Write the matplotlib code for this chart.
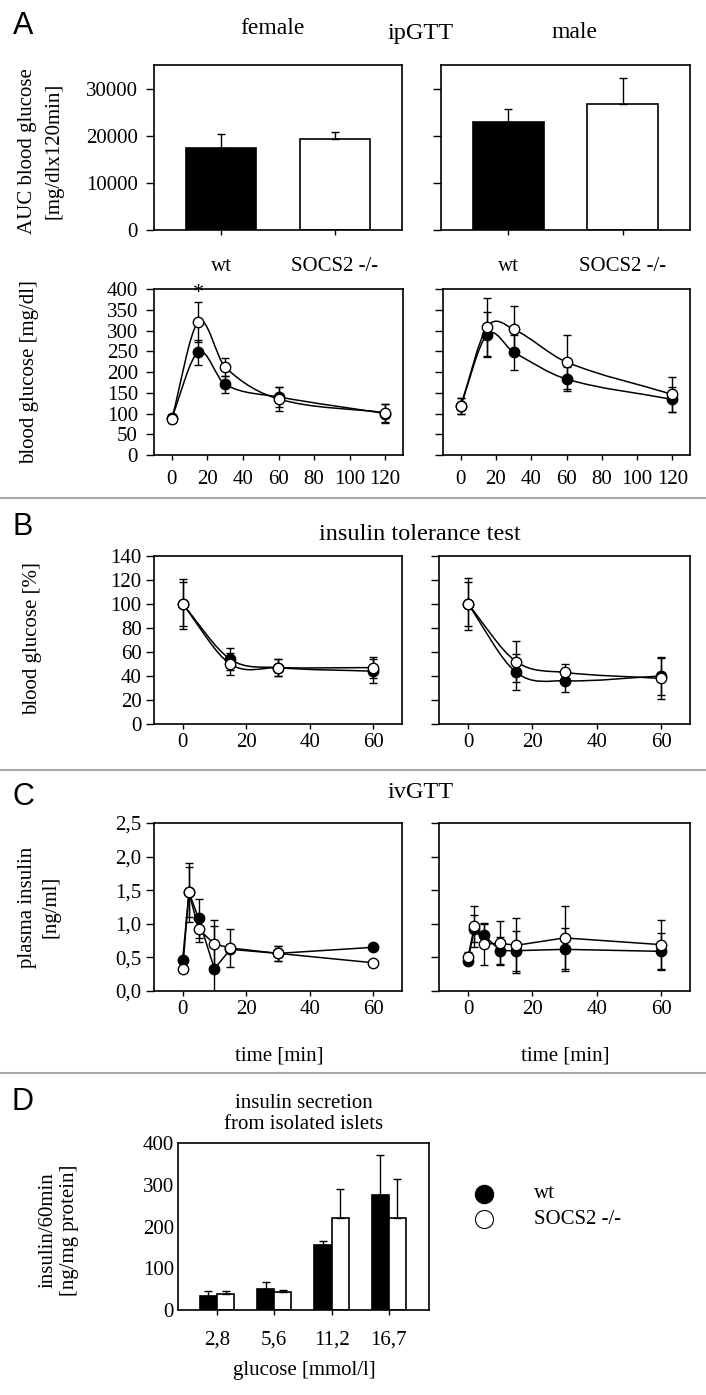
import matplotlib
matplotlib.use("Agg")
import matplotlib.pyplot as plt
import numpy as np
from matplotlib.lines import Line2D
from matplotlib.patches import PathPatch
from matplotlib.path import Path

plt.rcParams["font.family"] = ["Liberation Serif", "DejaVu Serif"]
plt.rcParams["font.size"] = 15

W, H = 706, 1395

# --- A: ipGTT area under curve
groups = ["wt", "SOCS2 -/-"]
auc_female = [17500, 19300]
auc_female_err = [2900, 1500]
auc_male = [23000, 26700]
auc_male_err = [2700, 5600]

# --- A: ipGTT time course
ipgtt_t = [0, 15, 30, 60, 120]
ipgtt_f_wt = [90, 248, 170, 140, 100]
ipgtt_f_wt_err = [10, 30, 20, 25, 22]
ipgtt_f_ko = [87, 321, 212, 135, 102]
ipgtt_f_ko_err = [10, 48, 22, 28, 22]
ipgtt_m_wt = [118, 290, 248, 183, 134]
ipgtt_m_wt_err = [20, 54, 42, 28, 30]
ipgtt_m_ko = [118, 308, 303, 224, 146]
ipgtt_m_ko_err = [20, 70, 55, 65, 42]

# --- B: insulin tolerance test
itt_t = [0, 15, 30, 60]
itt_f_wt = [100, 54, 47, 44]
itt_f_wt_err = [18, 9, 7, 10]
itt_f_ko = [100, 50, 47, 47]
itt_f_ko_err = [21, 9, 7, 9]
itt_m_wt = [100, 43, 36, 40]
itt_m_wt_err = [18, 15, 9, 16]
itt_m_ko = [100, 52, 43, 38]
itt_m_ko_err = [22, 17, 7, 17]

# --- C: ivGTT plasma insulin
ivgtt_t = [0, 2, 5, 10, 15, 30, 60]
ivgtt_f_wt = [0.46, 1.47, 1.08, 0.33, 0.62, 0.56, 0.65]
ivgtt_f_wt_err = [0.03, 0.37, 0.29, 0.63, 0.05, 0.11, 0.02]
ivgtt_f_ko = [0.32, 1.47, 0.92, 0.70, 0.64, 0.56, 0.42]
ivgtt_f_ko_err = [0.03, 0.44, 0.19, 0.36, 0.29, 0.11, 0.02]
ivgtt_m_wt = [0.45, 0.93, 0.83, 0.60, 0.60, 0.62, 0.59]
ivgtt_m_wt_err = [0.05, 0.20, 0.16, 0.20, 0.30, 0.32, 0.28]
ivgtt_m_ko = [0.50, 0.96, 0.70, 0.71, 0.68, 0.79, 0.69]
ivgtt_m_ko_err = [0.08, 0.30, 0.31, 0.33, 0.41, 0.47, 0.36]

# --- D: islets
glucose = ["2,8", "5,6", "11,2", "16,7"]
islet_wt = [34, 50, 156, 276]
islet_wt_err = [12, 18, 10, 96]
islet_ko = [38, 44, 220, 220]
islet_ko_err = [8, 4, 70, 94]


def box(l, t, r, b):
    return [l / W, 1 - b / H, (r - l) / W, (b - t) / H]


def ftext(x, y, s, **kw):
    kw.setdefault("ha", "center")
    kw.setdefault("va", "center")
    fig.text(x / W, 1 - y / H, s, **kw)


def style(ax, ylab=True, xpad=4, ypad=5, ylen=5.5):
    for sp in ax.spines.values():
        sp.set_linewidth(1.2)
    ax.tick_params(axis="y", direction="out", length=ylen, width=1, pad=ypad,
                   labelleft=ylab)
    ax.tick_params(axis="x", direction="out", length=3.6, width=1, pad=xpad)


def spline(ax, x, y):
    # smooth connector through the points (cubic Hermite drawn as Bezier path)
    x = np.asarray(x, float)
    y = np.asarray(y, float)
    m = np.empty(len(x))
    m[0] = (y[1] - y[0]) / (x[1] - x[0])
    m[-1] = (y[-1] - y[-2]) / (x[-1] - x[-2])
    m[1:-1] = (y[2:] - y[:-2]) / (x[2:] - x[:-2])
    verts = [(x[0], y[0])]
    codes = [Path.MOVETO]
    for i in range(len(x) - 1):
        d = (x[i + 1] - x[i]) / 3
        verts += [(x[i] + d, y[i] + d * m[i]),
                  (x[i + 1] - d, y[i + 1] - d * m[i + 1]),
                  (x[i + 1], y[i + 1])]
        codes += [Path.CURVE4] * 3
    ax.add_patch(PathPatch(Path(verts, codes), fill=False, lw=1.1,
                           color="black", zorder=3))


def curves(ax, t, wt, wt_err, ko, ko_err, smooth=True):
    for y, e in ((wt, wt_err), (ko, ko_err)):
        ax.errorbar(t, y, yerr=e, fmt="none", ecolor="black", elinewidth=1,
                    capsize=3, capthick=1, zorder=2)
        if smooth:
            spline(ax, t, y)
        else:
            ax.plot(t, y, color="black", lw=1.1, zorder=3)
    ax.plot(t, wt, "o", ms=7.5, mfc="black", mec="black", mew=1, zorder=4)
    ax.plot(t, ko, "o", ms=7.5, mfc="white", mec="black", mew=1, zorder=5)


def auc_bars(ax, vals, errs, ylab):
    x = np.arange(len(groups))
    ax.bar(x, vals, width=0.62, color=["black", "white"], edgecolor="black",
           linewidth=1.2, zorder=2)
    ax.errorbar(x, vals, yerr=[[0, 0], errs], fmt="none", ecolor="black",
                elinewidth=1, capsize=3, capthick=1, zorder=3)
    ax.set_xlim(-0.59, 1.59)
    ax.set_ylim(0, 35000)
    ax.set_yticks([0, 10000, 20000, 30000])
    ax.set_xticks(x)
    ax.set_xticklabels(groups)
    style(ax, ylab=ylab, xpad=16, ypad=6)


fig = plt.figure(figsize=(W / 100, H / 100), dpi=100)

# panel letters
for letter, yy in (("A", 26), ("B", 527), ("C", 797), ("D", 1102)):
    ftext(23, yy, letter, fontsize=22, family=["Liberation Sans", "DejaVu Sans"])

# separators
for yy in (498, 770, 1073):
    fig.add_artist(Line2D([0, 1], [1 - yy / H] * 2, transform=fig.transFigure,
                          color="#a8a8a8", lw=1.5))

# ---- A
ftext(272, 28, "female", fontsize=17)
ftext(421, 33, "ipGTT", fontsize=17.5)
ftext(575, 32, "male", fontsize=17)

ax = fig.add_axes(box(154, 65, 402, 230))
auc_bars(ax, auc_female, auc_female_err, True)
ax = fig.add_axes(box(441, 65, 690, 230))
auc_bars(ax, auc_male, auc_male_err, False)
ftext(41, 151, "AUC blood glucose\n[mg/dlx120min]", rotation=90, linespacing=1.55)

for (l, r), data, first in (((154, 403), (ipgtt_f_wt, ipgtt_f_wt_err, ipgtt_f_ko, ipgtt_f_ko_err), True),
                            ((443, 690), (ipgtt_m_wt, ipgtt_m_wt_err, ipgtt_m_ko, ipgtt_m_ko_err), False)):
    ax = fig.add_axes(box(l, 289, r, 455))
    curves(ax, ipgtt_t, *data)
    ax.set_xlim(-10, 130)
    ax.set_ylim(0, 400)
    ax.set_xticks(range(0, 121, 20))
    ax.set_yticks(range(0, 401, 50))
    style(ax, ylab=first, xpad=7, ypad=6)
    if first:
        ax.text(15, 388, "*", ha="center", va="center", fontsize=16)
ftext(30, 372, "blood glucose [mg/dl]", rotation=90)

# ---- B
ftext(420, 535, "insulin tolerance test", fontsize=17.5)
for (l, r), data, first in (((154, 402), (itt_f_wt, itt_f_wt_err, itt_f_ko, itt_f_ko_err), True),
                            ((439, 690), (itt_m_wt, itt_m_wt_err, itt_m_ko, itt_m_ko_err), False)):
    ax = fig.add_axes(box(l, 556, r, 724))
    curves(ax, itt_t, *data)
    ax.set_xlim(-9, 69)
    ax.set_ylim(0, 140)
    ax.set_xticks(range(0, 61, 20))
    ax.set_yticks(range(0, 141, 20))
    style(ax, ylab=first, xpad=3, ypad=3.5)
ftext(33, 639, "blood glucose [%]", rotation=90)

# ---- C
ftext(421, 792, "ivGTT", fontsize=17.5)
for (l, r), data, first, tx in (((154, 402), (ivgtt_f_wt, ivgtt_f_wt_err, ivgtt_f_ko, ivgtt_f_ko_err), True, 279),
                                ((439, 690), (ivgtt_m_wt, ivgtt_m_wt_err, ivgtt_m_ko, ivgtt_m_ko_err), False, 565)):
    ax = fig.add_axes(box(l, 823, r, 991))
    curves(ax, ivgtt_t, *data, smooth=False)
    ax.set_xlim(-9, 69)
    ax.set_ylim(0, 2.5)
    ax.set_xticks(range(0, 61, 20))
    ax.set_yticks([0, 0.5, 1.0, 1.5, 2.0, 2.5])
    ax.set_yticklabels(["0,0", "0,5", "1,0", "1,5", "2,0", "2,5"])
    style(ax, ylab=first, xpad=3, ypad=3.5)
    ftext(tx, 1056, "time [min]")
ftext(39, 907, "plasma insulin\n[ng/ml]", rotation=90, linespacing=1.3)

# ---- D
ftext(304, 1114, "insulin secretion\nfrom isolated islets", linespacing=1.1)
ax = fig.add_axes(box(178, 1143, 429, 1310))
x = np.arange(len(glucose))
bw = 0.3
ax.bar(x - bw / 2, islet_wt, width=bw, color="black", edgecolor="black", linewidth=1.2, zorder=2)
ax.bar(x + bw / 2, islet_ko, width=bw, color="white", edgecolor="black", linewidth=1.2, zorder=2)
ax.errorbar(x - bw / 2, islet_wt, yerr=[[0] * 4, islet_wt_err], fmt="none", ecolor="black",
            elinewidth=1, capsize=3, capthick=1, zorder=3)
ax.errorbar(x + bw / 2, islet_ko, yerr=[[0] * 4, islet_ko_err], fmt="none", ecolor="black",
            elinewidth=1, capsize=3, capthick=1, zorder=3)
ax.set_xlim(-0.68, 3.7)
ax.set_ylim(0, 400)
ax.set_xticks(x)
ax.set_xticklabels(glucose)
ax.set_yticks(range(0, 401, 100))
style(ax, xpad=11, ypad=3, ylen=0)
ftext(304, 1370, "glucose [mmol/l]")
ftext(59, 1230, "insulin/60min\n[ng/mg protein]", rotation=90, linespacing=1.15)

# legend
fig.add_artist(Line2D([484 / W], [1 - 1194 / H], marker="o", ms=13, mfc="black",
                      mec="black", transform=fig.transFigure))
fig.add_artist(Line2D([484 / W], [1 - 1219 / H], marker="o", ms=13, mfc="white",
                      mec="black", mew=0.8, transform=fig.transFigure))
ftext(534, 1194, "wt", ha="left")
ftext(534, 1219, "SOCS2 -/-", ha="left")

fig.savefig("out.png", dpi=100)
